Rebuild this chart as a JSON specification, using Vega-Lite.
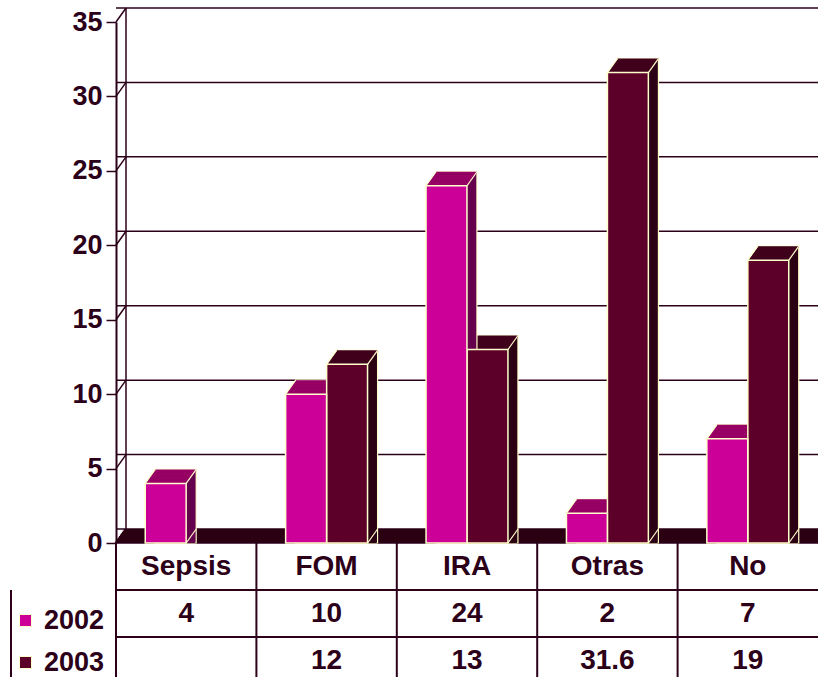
{
  "$schema": "https://vega.github.io/schema/vega-lite/v6.json",
  "width": 702,
  "height": 677,
  "autosize": {"type": "none"},
  "padding": {"left": 116, "top": 0, "right": 0, "bottom": 0},
  "background": "#ffffff",
  "config": {
    "view": {"stroke": null},
    "axisX": {"disable": true},
    "text": {"font": "Liberation Sans", "fontWeight": "bold", "fontSize": 28, "color": "#2b0018", "baseline": "middle", "align": "center"}
  },
  "datasets": {
    "causas": [
      {"causa": "Sepsis", "año": "2002", "valor": 4},
      {"causa": "FOM", "año": "2002", "valor": 10},
      {"causa": "IRA", "año": "2002", "valor": 24},
      {"causa": "Otras", "año": "2002", "valor": 2},
      {"causa": "No", "año": "2002", "valor": 7},
      {"causa": "FOM", "año": "2003", "valor": 12},
      {"causa": "IRA", "año": "2003", "valor": 13},
      {"causa": "Otras", "año": "2003", "valor": 31.6},
      {"causa": "No", "año": "2003", "valor": 19}
    ],
    "escala": [{"v": 0}, {"v": 5}, {"v": 10}, {"v": 15}, {"v": 20}, {"v": 25}, {"v": 30}, {"v": 35}]
  },
  "data": {"name": "causas"},
  "layer": [
    {
      "layer": [
        {
          "data": {"name": "escala"},
          "mark": {"type": "rule", "color": "#2b0018", "strokeWidth": 1.5, "x2Offset": 10, "yOffset": -14},
          "encoding": {
            "y": {
              "field": "v", "type": "quantitative",
              "scale": {"domain": [0, 35], "range": [543, 22], "nice": false},
              "axis": {
                "title": null, "values": [0, 5, 10, 15, 20, 25, 30, 35], "grid": false,
                "domainColor": "#2b0018", "domainWidth": 2,
                "tickColor": "#2b0018", "tickWidth": 1.5, "tickSize": 10,
                "labelFont": "Liberation Sans", "labelFontWeight": "bold", "labelFontSize": 27,
                "labelColor": "#2b0018", "labelPadding": 4
              }
            }
          }
        },
        {
          "data": {"name": "escala"},
          "mark": {"type": "rule", "color": "#2b0018", "strokeWidth": 1.5, "y2Offset": -14},
          "encoding": {
            "x": {"value": 0}, "x2": {"value": 10},
            "y": {"field": "v", "type": "quantitative"}, "y2": {"field": "v"}
          }
        },
        {
          "data": {"values": [{}]},
          "mark": {"type": "rule", "color": "#2b0018", "strokeWidth": 1.5, "yOffset": -14, "y2Offset": -14},
          "encoding": {"x": {"value": 10}, "y": {"datum": 0, "type": "quantitative"}, "y2": {"datum": 35}}
        },
        {
          "transform": [{"filter": "datum['año'] === '2002'"}],
          "encoding": {
            "x": {"field": "causa", "type": "nominal", "scale": {"domain": ["Sepsis", "FOM", "IRA", "Otras", "No"], "paddingInner": 0, "paddingOuter": 0}},
            "y": {"datum": 0, "type": "quantitative"}, "y2": {"datum": 0}
          },
          "layer": [
            {"mark": {"type": "rect", "width": {"band": 1.03}, "color": "#2b0012", "xOffset": 10, "yOffset": -14}},
            {"mark": {"type": "rect", "width": {"band": 1.03}, "color": "#2b0012", "xOffset": 9, "yOffset": -12.6}},
            {"mark": {"type": "rect", "width": {"band": 1.03}, "color": "#2b0012", "xOffset": 8, "yOffset": -11.2}},
            {"mark": {"type": "rect", "width": {"band": 1.03}, "color": "#2b0012", "xOffset": 7, "yOffset": -9.8}},
            {"mark": {"type": "rect", "width": {"band": 1.03}, "color": "#2b0012", "xOffset": 6, "yOffset": -8.4}},
            {"mark": {"type": "rect", "width": {"band": 1.03}, "color": "#2b0012", "xOffset": 5, "yOffset": -7}},
            {"mark": {"type": "rect", "width": {"band": 1.03}, "color": "#2b0012", "xOffset": 4, "yOffset": -5.6}},
            {"mark": {"type": "rect", "width": {"band": 1.03}, "color": "#2b0012", "xOffset": 3, "yOffset": -4.2}},
            {"mark": {"type": "rect", "width": {"band": 1.03}, "color": "#2b0012", "xOffset": 2, "yOffset": -2.8}},
            {"mark": {"type": "rect", "width": {"band": 1.03}, "color": "#2b0012", "xOffset": 1, "yOffset": -1.4}}
          ]
        },
        {
          "data": {"values": [{}]},
          "mark": {"type": "rule", "color": "#2b0018", "strokeWidth": 1.5},
          "encoding": {"y": {"datum": 0, "type": "quantitative"}}
        },
        {
          "encoding": {
            "x": {"field": "causa", "type": "nominal"},
            "y": {"field": "valor", "type": "quantitative", "stack": null}
          },
          "layer": [
            {
              "transform": [{"filter": "datum['año'] === '2003'"}],
              "layer": [
                {"mark": {"type": "bar", "width": {"band": 0.2913}, "color": "#2d0014", "stroke": "#ffffcc", "strokeWidth": 1.2, "xOffset": 30.5, "yOffset": -14, "y2Offset": -14}},
                {"mark": {"type": "bar", "width": {"band": 0.2913}, "color": "#2d0014", "xOffset": 29.5, "yOffset": -12.6, "y2Offset": -12.6}},
                {"mark": {"type": "bar", "width": {"band": 0.2913}, "color": "#2d0014", "xOffset": 28.5, "yOffset": -11.2, "y2Offset": -11.2}},
                {"mark": {"type": "bar", "width": {"band": 0.2913}, "color": "#2d0014", "xOffset": 27.5, "yOffset": -9.8, "y2Offset": -9.8}},
                {"mark": {"type": "bar", "width": {"band": 0.2913}, "color": "#2d0014", "xOffset": 26.5, "yOffset": -8.4, "y2Offset": -8.4}},
                {"mark": {"type": "bar", "width": {"band": 0.2913}, "color": "#2d0014", "xOffset": 25.5, "yOffset": -7, "y2Offset": -7}},
                {"mark": {"type": "bar", "width": {"band": 0.2913}, "color": "#2d0014", "xOffset": 24.5, "yOffset": -5.6, "y2Offset": -5.6}},
                {"mark": {"type": "bar", "width": {"band": 0.2913}, "color": "#2d0014", "xOffset": 23.5, "yOffset": -4.2, "y2Offset": -4.2}},
                {"mark": {"type": "bar", "width": {"band": 0.2913}, "color": "#2d0014", "xOffset": 22.5, "yOffset": -2.8, "y2Offset": -2.8}},
                {"mark": {"type": "bar", "width": {"band": 0.2913}, "color": "#2d0014", "xOffset": 21.5, "yOffset": -1.4, "y2Offset": -1.4}},
                {"mark": {"type": "bar", "width": {"band": 0.2913}, "color": "#40001c", "xOffset": 30.5, "yOffset": -14, "y2Offset": -12.3}, "encoding": {"y2": {"field": "valor"}}},
                {"mark": {"type": "bar", "width": {"band": 0.2913}, "color": "#40001c", "xOffset": 29.5, "yOffset": -12.6, "y2Offset": -10.9}, "encoding": {"y2": {"field": "valor"}}},
                {"mark": {"type": "bar", "width": {"band": 0.2913}, "color": "#40001c", "xOffset": 28.5, "yOffset": -11.2, "y2Offset": -9.5}, "encoding": {"y2": {"field": "valor"}}},
                {"mark": {"type": "bar", "width": {"band": 0.2913}, "color": "#40001c", "xOffset": 27.5, "yOffset": -9.8, "y2Offset": -8.1}, "encoding": {"y2": {"field": "valor"}}},
                {"mark": {"type": "bar", "width": {"band": 0.2913}, "color": "#40001c", "xOffset": 26.5, "yOffset": -8.4, "y2Offset": -6.7}, "encoding": {"y2": {"field": "valor"}}},
                {"mark": {"type": "bar", "width": {"band": 0.2913}, "color": "#40001c", "xOffset": 25.5, "yOffset": -7, "y2Offset": -5.3}, "encoding": {"y2": {"field": "valor"}}},
                {"mark": {"type": "bar", "width": {"band": 0.2913}, "color": "#40001c", "xOffset": 24.5, "yOffset": -5.6, "y2Offset": -3.9}, "encoding": {"y2": {"field": "valor"}}},
                {"mark": {"type": "bar", "width": {"band": 0.2913}, "color": "#40001c", "xOffset": 23.5, "yOffset": -4.2, "y2Offset": -2.5}, "encoding": {"y2": {"field": "valor"}}},
                {"mark": {"type": "bar", "width": {"band": 0.2913}, "color": "#40001c", "xOffset": 22.5, "yOffset": -2.8, "y2Offset": -1.1}, "encoding": {"y2": {"field": "valor"}}},
                {"mark": {"type": "bar", "width": {"band": 0.2913}, "color": "#40001c", "xOffset": 21.5, "yOffset": -1.4, "y2Offset": 0.3}, "encoding": {"y2": {"field": "valor"}}},
                {"mark": {"type": "rule", "color": "#ffffcc", "strokeWidth": 1.2, "xOffset": 0, "x2Offset": 10, "y2Offset": -14}, "encoding": {"x2": {"field": "causa"}, "y2": {"field": "valor"}}},
                {"mark": {"type": "rule", "color": "#ffffcc", "strokeWidth": 1.2, "xOffset": 41, "x2Offset": 51, "y2Offset": -14}, "encoding": {"x2": {"field": "causa"}, "y2": {"field": "valor"}}},
                {"mark": {"type": "rule", "color": "#ffffcc", "strokeWidth": 1.2, "xOffset": 41, "x2Offset": 51, "y2Offset": -14}, "encoding": {"x2": {"field": "causa"}, "y": {"datum": 0, "type": "quantitative"}, "y2": {"datum": 0}}}
              ]
            },
            {
              "transform": [{"filter": "datum['año'] === '2002'"}],
              "layer": [
                {"mark": {"type": "bar", "width": {"band": 0.2913}, "color": "#66004d", "stroke": "#ffffcc", "strokeWidth": 1.2, "xOffset": -10.5, "yOffset": -14, "y2Offset": -14}},
                {"mark": {"type": "bar", "width": {"band": 0.2913}, "color": "#66004d", "xOffset": -11.5, "yOffset": -12.6, "y2Offset": -12.6}},
                {"mark": {"type": "bar", "width": {"band": 0.2913}, "color": "#66004d", "xOffset": -12.5, "yOffset": -11.2, "y2Offset": -11.2}},
                {"mark": {"type": "bar", "width": {"band": 0.2913}, "color": "#66004d", "xOffset": -13.5, "yOffset": -9.8, "y2Offset": -9.8}},
                {"mark": {"type": "bar", "width": {"band": 0.2913}, "color": "#66004d", "xOffset": -14.5, "yOffset": -8.4, "y2Offset": -8.4}},
                {"mark": {"type": "bar", "width": {"band": 0.2913}, "color": "#66004d", "xOffset": -15.5, "yOffset": -7, "y2Offset": -7}},
                {"mark": {"type": "bar", "width": {"band": 0.2913}, "color": "#66004d", "xOffset": -16.5, "yOffset": -5.6, "y2Offset": -5.6}},
                {"mark": {"type": "bar", "width": {"band": 0.2913}, "color": "#66004d", "xOffset": -17.5, "yOffset": -4.2, "y2Offset": -4.2}},
                {"mark": {"type": "bar", "width": {"band": 0.2913}, "color": "#66004d", "xOffset": -18.5, "yOffset": -2.8, "y2Offset": -2.8}},
                {"mark": {"type": "bar", "width": {"band": 0.2913}, "color": "#66004d", "xOffset": -19.5, "yOffset": -1.4, "y2Offset": -1.4}},
                {"mark": {"type": "bar", "width": {"band": 0.2913}, "color": "#990066", "xOffset": -10.5, "yOffset": -14, "y2Offset": -12.3}, "encoding": {"y2": {"field": "valor"}}},
                {"mark": {"type": "bar", "width": {"band": 0.2913}, "color": "#990066", "xOffset": -11.5, "yOffset": -12.6, "y2Offset": -10.9}, "encoding": {"y2": {"field": "valor"}}},
                {"mark": {"type": "bar", "width": {"band": 0.2913}, "color": "#990066", "xOffset": -12.5, "yOffset": -11.2, "y2Offset": -9.5}, "encoding": {"y2": {"field": "valor"}}},
                {"mark": {"type": "bar", "width": {"band": 0.2913}, "color": "#990066", "xOffset": -13.5, "yOffset": -9.8, "y2Offset": -8.1}, "encoding": {"y2": {"field": "valor"}}},
                {"mark": {"type": "bar", "width": {"band": 0.2913}, "color": "#990066", "xOffset": -14.5, "yOffset": -8.4, "y2Offset": -6.7}, "encoding": {"y2": {"field": "valor"}}},
                {"mark": {"type": "bar", "width": {"band": 0.2913}, "color": "#990066", "xOffset": -15.5, "yOffset": -7, "y2Offset": -5.3}, "encoding": {"y2": {"field": "valor"}}},
                {"mark": {"type": "bar", "width": {"band": 0.2913}, "color": "#990066", "xOffset": -16.5, "yOffset": -5.6, "y2Offset": -3.9}, "encoding": {"y2": {"field": "valor"}}},
                {"mark": {"type": "bar", "width": {"band": 0.2913}, "color": "#990066", "xOffset": -17.5, "yOffset": -4.2, "y2Offset": -2.5}, "encoding": {"y2": {"field": "valor"}}},
                {"mark": {"type": "bar", "width": {"band": 0.2913}, "color": "#990066", "xOffset": -18.5, "yOffset": -2.8, "y2Offset": -1.1}, "encoding": {"y2": {"field": "valor"}}},
                {"mark": {"type": "bar", "width": {"band": 0.2913}, "color": "#990066", "xOffset": -19.5, "yOffset": -1.4, "y2Offset": 0.3}, "encoding": {"y2": {"field": "valor"}}},
                {"mark": {"type": "rule", "color": "#ffffcc", "strokeWidth": 1.2, "xOffset": -41, "x2Offset": -31, "y2Offset": -14}, "encoding": {"x2": {"field": "causa"}, "y2": {"field": "valor"}}},
                {"mark": {"type": "rule", "color": "#ffffcc", "strokeWidth": 1.2, "xOffset": 0, "x2Offset": 10, "y2Offset": -14}, "encoding": {"x2": {"field": "causa"}, "y2": {"field": "valor"}}},
                {"mark": {"type": "rule", "color": "#ffffcc", "strokeWidth": 1.2, "xOffset": 0, "x2Offset": 10, "y2Offset": -14}, "encoding": {"x2": {"field": "causa"}, "y": {"datum": 0, "type": "quantitative"}, "y2": {"datum": 0}}}
              ]
            },
            {
              "transform": [{"filter": "datum['año'] === '2003'"}],
              "mark": {"type": "bar", "width": {"band": 0.2913}, "xOffset": 20.5, "stroke": "#ffffcc", "strokeWidth": 1.5},
              "encoding": {
                "color": {
                  "field": "año", "type": "nominal",
                  "scale": {"domain": ["2002", "2003"], "range": ["#cc0099", "#5c0029"]},
                  "legend": {
                    "title": null, "orient": "none", "legendX": -104, "legendY": 607, "padding": 0,
                    "symbolType": "square", "symbolSize": 144, "symbolStrokeColor": "#ffffcc", "symbolStrokeWidth": 1,
                    "labelFont": "Liberation Sans", "labelFontWeight": "bold", "labelFontSize": 27,
                    "labelColor": "#2b0018", "labelOffset": 5, "rowPadding": 14
                  }
                }
              }
            },
            {
              "transform": [{"filter": "datum['año'] === '2002'"}],
              "mark": {"type": "bar", "width": {"band": 0.2913}, "xOffset": -20.5, "stroke": "#ffffcc", "strokeWidth": 1.5},
              "encoding": {"color": {"field": "año", "type": "nominal"}}
            }
          ]
        }
      ]
    },
    {
      "layer": [
        {
          "transform": [{"filter": "datum['año'] === '2002'"}],
          "mark": {"type": "text"},
          "encoding": {
            "x": {"field": "causa", "type": "nominal"},
            "y": {"datum": "Causa", "type": "nominal", "scale": {"domain": ["Causa", "2002", "2003"], "range": [543, 684], "paddingInner": 0, "paddingOuter": 0}, "axis": null},
            "text": {"field": "causa"}
          }
        },
        {
          "mark": {"type": "text"},
          "encoding": {
            "x": {"field": "causa", "type": "nominal"},
            "y": {"field": "año", "type": "nominal", "axis": null},
            "text": {"field": "valor", "type": "nominal"}
          }
        },
        {
          "transform": [{"filter": "datum['año'] === '2002'"}],
          "mark": {"type": "rule", "color": "#2b0018", "strokeWidth": 2},
          "encoding": {
            "x": {"field": "causa", "type": "nominal", "bandPosition": 0},
            "y": {"datum": "Causa", "type": "nominal", "bandPosition": 0, "axis": null},
            "y2": {"datum": "2003", "bandPosition": 1}
          }
        },
        {
          "transform": [{"filter": "datum.causa === 'FOM'"}],
          "mark": {"type": "rule", "color": "#2b0018", "strokeWidth": 2, "x2Offset": -105},
          "encoding": {
            "y": {"field": "año", "type": "nominal", "bandPosition": 0, "axis": null}
          }
        },
        {
          "transform": [{"filter": "datum.causa === 'FOM' && datum['año'] === '2002'"}],
          "mark": {"type": "rule", "color": "#2b0018", "strokeWidth": 2},
          "encoding": {
            "x": {"value": -105},
            "y": {"field": "año", "type": "nominal", "bandPosition": 0, "axis": null},
            "y2": {"datum": "2003", "bandPosition": 1}
          }
        }
      ]
    }
  ],
  "resolve": {"scale": {"y": "independent"}}
}
